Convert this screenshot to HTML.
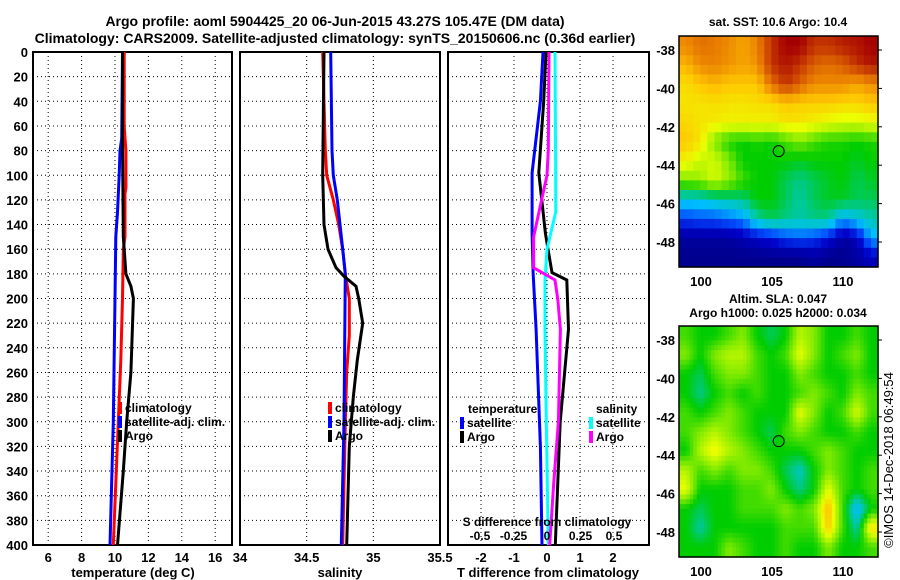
<!DOCTYPE html>
<html><head><meta charset="utf-8"><style>
body{margin:0;background:#fff}
svg{display:block;font-family:"Liberation Sans",sans-serif;font-weight:bold}
</style></head><body>
<svg id="s" width="900" height="580" viewBox="0 0 900 580">
<text x="335" y="26" font-size="14" text-anchor="middle">Argo profile: aoml 5904425_20 06-Jun-2015 43.27S 105.47E (DM data)</text>
<text x="335" y="43" font-size="14" text-anchor="middle">Climatology: CARS2009. Satellite-adjusted climatology: synTS_20150606.nc (0.36d earlier)</text>
<g id="g"></g>
</svg>
<script>
// ---- data ----
const depthTicks=[0,20,40,60,80,100,120,140,160,180,200,220,240,260,280,300,320,340,360,380,400];
const tempTicks=[6,8,10,12,14,16];
const salTicks=[34,34.5,35,35.5];
const dTTicks=[-2,-1,0,1,2];
const dSTicks=[-0.5,-0.25,0,0.25,0.5];
const tClimD=[0,60,70,80,110,115,150,160,200,250,300,350,400];
const tClimV=[10.55,10.55,10.6,10.65,10.65,10.6,10.6,10.5,10.45,10.35,10.2,10.05,9.9];
const tSatD=[0,70,80,100,130,150,200,300,400];
const tSatV=[10.45,10.4,10.3,10.25,10.15,10.05,10.0,9.9,9.7];
const tArgoD=[0,70,150,160,180,190,200,260,300,340,400];
const tArgoV=[10.45,10.45,10.5,10.55,10.65,10.95,11.1,10.95,10.7,10.5,10.15];
const sClimD=[0,80,100,120,140,160,180,200,230,260,300,400];
const sClimV=[34.62,34.64,34.65,34.70,34.74,34.77,34.79,34.82,34.82,34.80,34.79,34.77];
const sSatD=[0,80,100,120,140,160,180,300,400];
const sSatV=[34.68,34.69,34.70,34.73,34.75,34.77,34.79,34.78,34.76];
const sArgoD=[0,100,140,160,175,182,190,200,220,250,280,320,360,400];
const sArgoV=[34.63,34.62,34.63,34.66,34.72,34.78,34.87,34.89,34.92,34.88,34.85,34.82,34.81,34.80];
const dTSatD=[0,40,98,147,179,225,320,400];
const dTSatV=[-0.12,-0.2,-0.45,-0.45,-0.42,-0.33,-0.2,-0.15];
const dTArgoD=[0,40,98,147,160,179,185,225,300,400];
const dTArgoV=[-0.03,-0.1,-0.25,-0.05,0.03,0.15,0.6,0.65,0.4,0.25];
const dSSatD=[0,100,130,160,185,225,300,400];
const dSSatV=[0.06,0.065,0.065,0,-0.015,-0.015,-0.005,0.01];
const dSArgoD=[0,80,100,120,150,175,185,200,225,300,350,400];
const dSArgoV=[0.015,0.01,0,-0.04,-0.1,-0.1,0.06,0.08,0.1,0.085,0.05,0.02];
const latTicks=[-38,-40,-42,-44,-46,-48];
const lonTicks=[100,105,110];
const sstGrid=[
[.85,.88,.87,.85,.82,.86,.95,1,1,.95,.95,.97,.98,1],
[.8,.85,.86,.84,.82,.84,.95,.98,.95,.9,.88,.9,.95,.98],
[.75,.78,.8,.78,.78,.78,.88,.95,.9,.85,.85,.85,.82,.85],
[.74,.74,.75,.74,.74,.75,.75,.78,.77,.77,.77,.76,.76,.78],
[.76,.74,.73,.72,.72,.72,.72,.74,.74,.72,.7,.68,.68,.7],
[.78,.74,.6,.52,.5,.52,.5,.55,.6,.55,.52,.52,.5,.52],
[.72,.66,.68,.6,.5,.5,.5,.5,.48,.5,.5,.5,.48,.5],
[.6,.62,.68,.62,.55,.5,.5,.45,.42,.45,.48,.5,.45,.48],
[.35,.35,.38,.4,.42,.5,.5,.45,.4,.45,.48,.48,.45,.45],
[.2,.22,.22,.25,.28,.4,.45,.42,.4,.42,.42,.3,.35,.4],
[.05,.05,.05,.05,.08,.12,.15,.2,.22,.2,.15,.05,.1,.3],
[.02,.02,.02,.02,.02,.02,.02,.02,.02,.05,.02,.02,.05,.1]];
const slaGrid=[
[.55,.5,.5,.55,.6,.5,.45,.5,.65,.6,.5,.5,.55,.5],
[.6,.5,.6,.65,.65,.55,.5,.55,.7,.6,.5,.55,.6,.5],
[.5,.45,.55,.6,.6,.55,.5,.5,.6,.55,.5,.5,.55,.5],
[.5,.42,.5,.55,.5,.55,.5,.5,.55,.6,.55,.5,.6,.55],
[.55,.5,.55,.6,.55,.5,.5,.5,.7,.6,.5,.55,.68,.55],
[.55,.6,.65,.6,.55,.5,.45,.55,.6,.55,.5,.5,.55,.5],
[.5,.65,.72,.65,.6,.55,.5,.5,.5,.55,.6,.55,.5,.5],
[.65,.55,.6,.55,.6,.6,.55,.45,.38,.5,.6,.55,.5,.55],
[.7,.5,.5,.5,.55,.55,.6,.5,.42,.5,.7,.55,.5,.55],
[.5,.45,.5,.5,.55,.55,.55,.6,.55,.6,.8,.55,.3,.5],
[.5,.4,.5,.5,.5,.5,.5,.55,.55,.55,.78,.55,.4,.75],
[.5,.5,.5,.6,.55,.5,.5,.55,.5,.5,.6,.5,.5,.55]];
// ---- drawing ----
const NS="http://www.w3.org/2000/svg",G=document.getElementById('g');
function el(t,a,txt){const e=document.createElementNS(NS,t);for(const k in a)e.setAttribute(k,a[k]);if(txt!==undefined)e.textContent=txt;G.appendChild(e);return e;}
const Y0=52,Y1=545;
const yD=d=>Y0+d*(Y1-Y0)/400;
function lin(d0,d1,r0,r1){return v=>r0+(v-d0)*(r1-r0)/(d1-d0);}
const xT=lin(10,12,115,148.4);
const xS=lin(34,35.5,240,440);
const xdT=lin(0,1,547,580);
const xdS=lin(0,0.5,547,614);
function frame(x0,x1,name){
  const r=el('rect',{x:x0,y:Y0,width:x1-x0,height:Y1-Y0,fill:'none',stroke:'#000','stroke-width':2});
  
  depthTicks.forEach(d=>{if(d>0&&d<400){const l=el('line',{x1:x0,x2:x1,y1:yD(d),y2:yD(d),stroke:'#000','stroke-dasharray':'1,3'});}});
}
function vgrid(ticks,f,x0,x1){ticks.forEach(t=>{const x=f(t);if(x>x0+2&&x<x1-2){const l=el('line',{x1:x,x2:x,y1:Y0,y2:Y1,stroke:'#000','stroke-dasharray':'1,3'});}});}
function prof(D,V,f,col,name){
  let p='';for(let i=0;i<D.length;i++)p+=(i?'L':'M')+f(V[i]).toFixed(1)+','+yD(D[i]).toFixed(1);
  const e=el('path',{d:p,fill:'none',stroke:col,'stroke-width':3});
  
}
function txt(x,y,s,size,anchor,name,fill){const t=el('text',{x:x,y:y,'font-size':size,'text-anchor':anchor||'start',fill:fill||'#000'},s);return t;}
// panel 1
frame(33,232,'temperature-panel');vgrid(tempTicks,xT,33,232);
depthTicks.forEach(d=>txt(28,yD(d)+5,String(d),13,'end','depth-tick-label'));
tempTicks.forEach(t=>txt(xT(t),562,String(t),13,'middle','temp-tick-label'));
txt(133,577,'temperature (deg C)',13,'middle','x-axis-title-temperature');
prof(tClimD,tClimV,xT,'#f00','temp-climatology-line');
prof(tSatD,tSatV,xT,'#00f','temp-satellite-line');
prof(tArgoD,tArgoV,xT,'#000','temp-argo-line');
// panel 2
frame(240,440,'salinity-panel');vgrid(salTicks,xS,240,440);
salTicks.forEach(t=>txt(xS(t),562,String(t),13,'middle','sal-tick-label'));
txt(340,577,'salinity',13,'middle','x-axis-title-salinity');
prof(sClimD,sClimV,xS,'#f00','sal-climatology-line');
prof(sSatD,sSatV,xS,'#00f','sal-satellite-line');
prof(sArgoD,sArgoV,xS,'#000','sal-argo-line');
// legends
function leg(x,y,col,s,name){const r=el('rect',{x:x,y:y-10,width:4,height:12,fill:col});txt(x+7,y,s,12,'start',name);}
leg(118,412,'#f00','climatology','legend-climatology');leg(118,426,'#00f','satellite-adj. clim.','legend-satellite');leg(118,440,'#000','Argo','legend-argo');
leg(328,412,'#f00','climatology','legend-climatology-2');leg(328,426,'#00f','satellite-adj. clim.','legend-satellite-2');leg(328,440,'#000','Argo','legend-argo-2');
// panel 3
frame(448,649,'difference-panel');vgrid(dTTicks,xdT,448,649);
dTTicks.forEach(t=>txt(xdT(t),562,String(t),13,'middle','dT-tick-label'));
txt(548,577,'T difference from climatology',13,'middle','x-axis-title-t-difference');
prof(dTSatD,dTSatV,xdT,'#00f','dT-satellite-line');
prof(dTArgoD,dTArgoV,xdT,'#000','dT-argo-line');
prof(dSSatD,dSSatV,xdS,'#0ff','dS-satellite-line');
prof(dSArgoD,dSArgoV,xdS,'#f0f','dS-argo-line');
txt(547,526,'S difference from climatology',12,'middle','s-difference-title');
dSTicks.forEach(t=>txt(xdS(t),540,String(t),12,'middle','dS-tick-label'));
txt(468,413,'temperature',12,'start','legend-temperature-heading');
leg(460,427,'#00f','satellite','legend-dT-satellite');leg(460,441,'#000','Argo','legend-dT-argo');
txt(596,413,'salinity',12,'start','legend-salinity-heading');
leg(589,427,'#0ff','satellite','legend-dS-satellite');leg(589,441,'#f0f','Argo','legend-dS-argo');
// colormap
const stops=[[0,[0,0,130]],[.12,[0,0,200]],[.22,[0,80,255]],[.32,[0,190,255]],[.4,[0,200,170]],[.5,[0,205,0]],[.6,[130,235,0]],[.7,[235,255,0]],[.78,[255,200,0]],[.86,[235,130,0]],[.93,[205,70,0]],[1,[165,0,0]]];
function cmap(v){for(let i=1;i<stops.length;i++){if(v<=stops[i][0]){const a=stops[i-1],b=stops[i],t=(v-a[0])/(b[0]-a[0]);return 'rgb('+a[1].map((c,k)=>Math.round(c+(b[1][k]-c)*t)).join(',')+')';}}return 'rgb(165,0,0)';}
function sample(grid,fr,fc){
  const R=grid.length,C=grid[0].length;
  fr=Math.max(0,Math.min(R-1,fr));fc=Math.max(0,Math.min(C-1,fc));
  const r0=Math.floor(fr),c0=Math.floor(fc),r1=Math.min(R-1,r0+1),c1=Math.min(C-1,c0+1),tr=fr-r0,tc=fc-c0;
  return (grid[r0][c0]*(1-tc)+grid[r0][c1]*tc)*(1-tr)+(grid[r1][c0]*(1-tc)+grid[r1][c1]*tc)*tr;
}
function map(y0,y1,grid,name,sub){
  const x0=679,x1=878,lonF=lin(100,110,701,843),latF=lin(-38,-48,y0+14,y0+14+192);
  const rows=grid.length,cols=grid[0].length,NR=rows*sub,NC=cols*sub,cw=(x1-x0)/NC,ch=(y1-y0)/NR;
  for(let r=0;r<NR;r++)for(let c=0;c<NC;c++){
    const v=sample(grid,(r+0.5)/sub-0.5,(c+0.5)/sub-0.5);
    const e=el('rect',{x:(x0+c*cw).toFixed(1),y:(y0+r*ch).toFixed(1),width:(cw+0.6).toFixed(1),height:(ch+0.6).toFixed(1),fill:cmap(v)});
    
    
  }
  const f=el('rect',{x:x0,y:y0,width:x1-x0,height:y1-y0,fill:'none',stroke:'#000','stroke-width':1.5});
  latTicks.forEach(l=>{const t=el('line',{x1:x1,x2:x1+4,y1:latF(l),y2:latF(l),stroke:'#000'});txt(675,latF(l)+5,String(l),13,'end','lat-tick-label');});
  lonTicks.forEach(l=>txt(lonF(l),y1+19,String(l),13,'middle','lon-tick-label'));
  const c=el('circle',{cx:lonF(105.47),cy:latF(-43.27),r:5.5,fill:'none',stroke:'#000','stroke-width':1});
}
map(36,267,sstGrid,'sst-map',2);
map(326,557,slaGrid,'sla-map',4);
txt(778,26,'sat. SST: 10.6 Argo: 10.4',12,'middle','sst-map-title');
txt(778,303,'Altim. SLA: 0.047',12,'middle','sla-map-title');
txt(778,317,'Argo h1000: 0.025 h2000: 0.034',12,'middle','sla-map-subtitle');
const cr=txt(0,0,'©IMOS 14-Dec-2018 06:49:54',13,'middle','timestamp-credit');
cr.setAttribute('font-weight','normal');cr.setAttribute('transform','translate(893,460) rotate(-90)');
</script>
</body></html>
